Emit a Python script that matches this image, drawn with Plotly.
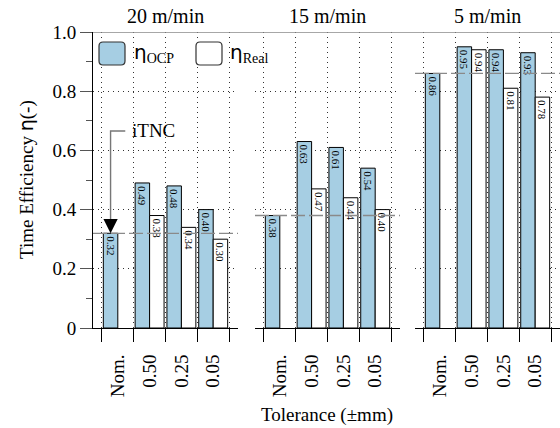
import plotly.graph_objects as go
from plotly.subplots import make_subplots

speeds = ["20 m/min", "15 m/min", "5 m/min"]
tolerances = ["Nom.", "0.50", "0.25", "0.05"]
eta_ocp = [[0.32, 0.49, 0.48, 0.40],
           [0.38, 0.63, 0.61, 0.54],
           [0.86, 0.95, 0.94, 0.93]]
eta_real = [[None, 0.38, 0.34, 0.30],
            [None, 0.47, 0.44, 0.40],
            [None, 0.94, 0.81, 0.78]]
y_ticks = [0, 0.2, 0.4, 0.6, 0.8, 1.0]
y_ticktext = ["0", "0.2", "0.4", "0.6", "0.8", "1.0"]

SERIF = "Liberation Serif"
BLUE = "#a6cee3"
W, H = 560, 428
L, R, T, B = 93, 0, 32, 100
PW, PH = W - L - R, H - T - B

def px(x):
    return (x - L) / PW

def py(y):
    return (H - B - y) / PH

fig = make_subplots(rows=1, cols=3, shared_yaxes=True)
domains = [[0.0, 0.3105], [0.3469, 0.6574], [0.6895, 1.0]]
xpos = list(range(len(tolerances)))

for i in range(3):
    fig.add_trace(go.Bar(
        x=xpos, y=eta_ocp[i], offset=-0.455, width=0.455,
        marker=dict(color=BLUE, line=dict(color="black", width=1)),
        text=[f"{v:.2f}" for v in eta_ocp[i]], textposition="inside",
        insidetextanchor="end", textangle=90,
        textfont=dict(family=SERIF, size=11, color="black"),
        showlegend=False, cliponaxis=False), row=1, col=i + 1)
    real_x = [x for x, v in zip(xpos, eta_real[i]) if v is not None]
    real_y = [v for v in eta_real[i] if v is not None]
    fig.add_trace(go.Bar(
        x=real_x, y=real_y, offset=0, width=0.455,
        marker=dict(color="white", line=dict(color="black", width=1)),
        text=[f"{v:.2f}" for v in real_y],
        textposition="inside", insidetextanchor="end", textangle=90,
        textfont=dict(family=SERIF, size=11, color="black"),
        showlegend=False, cliponaxis=False), row=1, col=i + 1)
    # iTNC reference line (nominal OCP)
    xr = "x" if i == 0 else f"x{i+1}"
    yr = "y" if i == 0 else f"y{i+1}"
    fig.add_shape(type="line", xref=f"{xr} domain", yref=yr, x0=0, x1=1,
                  y0=eta_ocp[i][0], y1=eta_ocp[i][0],
                  line=dict(color="#8a8a8a", width=1.3, dash="14px,4px"), layer="above")
    fig.add_annotation(text=speeds[i], xref="paper", yref="paper",
                       x=(domains[i][0] + domains[i][1]) / 2, y=py(15.5),
                       xanchor="center", yanchor="middle", showarrow=False,
                       font=dict(family=SERIF, size=20, color="black"))

for i in range(3):
    fig.update_xaxes(
        domain=domains[i], range=[-0.78, 3.78], tickmode="array", tickvals=xpos,
        ticktext=tolerances, tickangle=-90, ticks="outside", ticklen=18,
        tickcolor="rgba(0,0,0,0)", showgrid=False, zeroline=False,
        showline=True, linecolor="black", linewidth=1,
        tickfont=dict(family=SERIF, size=19, color="black"),
        minor=dict(tickmode="array", tickvals=[-0.5, 0.5, 1.5, 2.5, 3.5],
                   ticks="outside", ticklen=13, tickcolor="black", tickwidth=1,
                   showgrid=True, gridcolor="#333", griddash="1px,4px", gridwidth=1),
        row=1, col=i + 1)
    fig.update_yaxes(
        range=[0, 1.0], tickmode="array", tickvals=y_ticks, ticktext=y_ticktext,
        ticks="outside" if i == 0 else "", ticklen=12, tickcolor="#555",
        showticklabels=(i == 0), showgrid=True, gridcolor="#333", griddash="1px,4px",
        gridwidth=1, zeroline=False, showline=(i == 0), linecolor="black", linewidth=1,
        tickfont=dict(family=SERIF, size=19, color="black"),
        minor=dict(tickmode="array", tickvals=[0.1, 0.3, 0.5, 0.7, 0.9],
                   ticks="outside" if i == 0 else "", ticklen=6, tickcolor="#555",
                   showgrid=False),
        row=1, col=i + 1)

# top line at 1.0 across the whole plot
fig.add_shape(type="line", xref="paper", yref="y", x0=0, x1=1, y0=1.0, y1=1.0,
              line=dict(color="#8a8a8a", width=1.6), layer="above")

# legend boxes
def rrect(x0, y0, x1, y1, r=4):
    X0, X1 = px(x0), px(x1)
    Y0, Y1 = py(y0), py(y1)
    rx, ry = r / PW, r / PH
    return (f"M {X0+rx},{Y0} L {X1-rx},{Y0} Q {X1},{Y0} {X1},{Y0-ry} "
            f"L {X1},{Y1+ry} Q {X1},{Y1} {X1-rx},{Y1} L {X0+rx},{Y1} "
            f"Q {X0},{Y1} {X0},{Y1+ry} L {X0},{Y0-ry} Q {X0},{Y0} {X0+rx},{Y0} Z")

fig.add_shape(type="path", xref="paper", yref="paper", path=rrect(99, 42, 125, 65),
              fillcolor=BLUE, line=dict(color="#333", width=1.2), layer="above")
fig.add_shape(type="path", xref="paper", yref="paper", path=rrect(196, 42, 222, 65),
              fillcolor="white", line=dict(color="#333", width=1.2), layer="above")
eta = '<span style="font-family:DejaVu Sans">η</span>'
fig.add_annotation(text=eta + "<sub>OCP</sub>", xref="paper", yref="paper",
                   x=px(132), y=py(53.5), xanchor="left", yanchor="middle",
                   showarrow=False, font=dict(family=SERIF, size=20, color="black"))
fig.add_annotation(text=eta + "<sub>Real</sub>", xref="paper", yref="paper",
                   x=px(228), y=py(53.5), xanchor="left", yanchor="middle",
                   showarrow=False, font=dict(family=SERIF, size=20, color="black"))

# iTNC callout
bar_cx = -0.455 / 2
fig.add_shape(type="path", xref="x", yref="y",
              path=f"M {(125-101.7)/31.7-0.5},{(328-131)/296} L {bar_cx},{(328-131)/296} "
                   f"L {bar_cx},{eta_ocp[0][0] + 14/296}",
              line=dict(color="#777", width=1.4), layer="above")
fig.add_annotation(x=bar_cx, y=eta_ocp[0][0], xref="x", yref="y", text=" ",
                   showarrow=True, ax=0, ay=-16, arrowhead=2, arrowsize=2.2,
                   arrowwidth=1.3, arrowcolor="black", standoff=0)
fig.add_annotation(text="iTNC", xref="paper", yref="paper", x=px(130), y=py(130.5),
                   xanchor="left", yanchor="middle", showarrow=False,
                   font=dict(family=SERIF, size=19, color="black"))

# axis titles
fig.add_annotation(text="Tolerance (±mm)", xref="paper", yref="paper",
                   x=0.5, y=py(415), xanchor="center", yanchor="middle",
                   showarrow=False, font=dict(family=SERIF, size=19, color="black"))
fig.add_annotation(text="Time Efficiency " + eta + "(-)", xref="paper", yref="paper",
                   x=px(26), y=0.5, xanchor="center", yanchor="middle", textangle=-90,
                   showarrow=False, font=dict(family=SERIF, size=19, color="black"))

fig.update_layout(
    width=W, height=H, margin=dict(l=L, r=R, t=T, b=B, pad=0),
    paper_bgcolor="white", plot_bgcolor="white", barmode="overlay",
    uniformtext=dict(minsize=11, mode="show"),
    font=dict(family=SERIF, color="black"),
)

fig.write_html("out.html", config={"displayModeBar": False},
               post_script="document.body.style.margin='0';document.body.style.padding='0';")
